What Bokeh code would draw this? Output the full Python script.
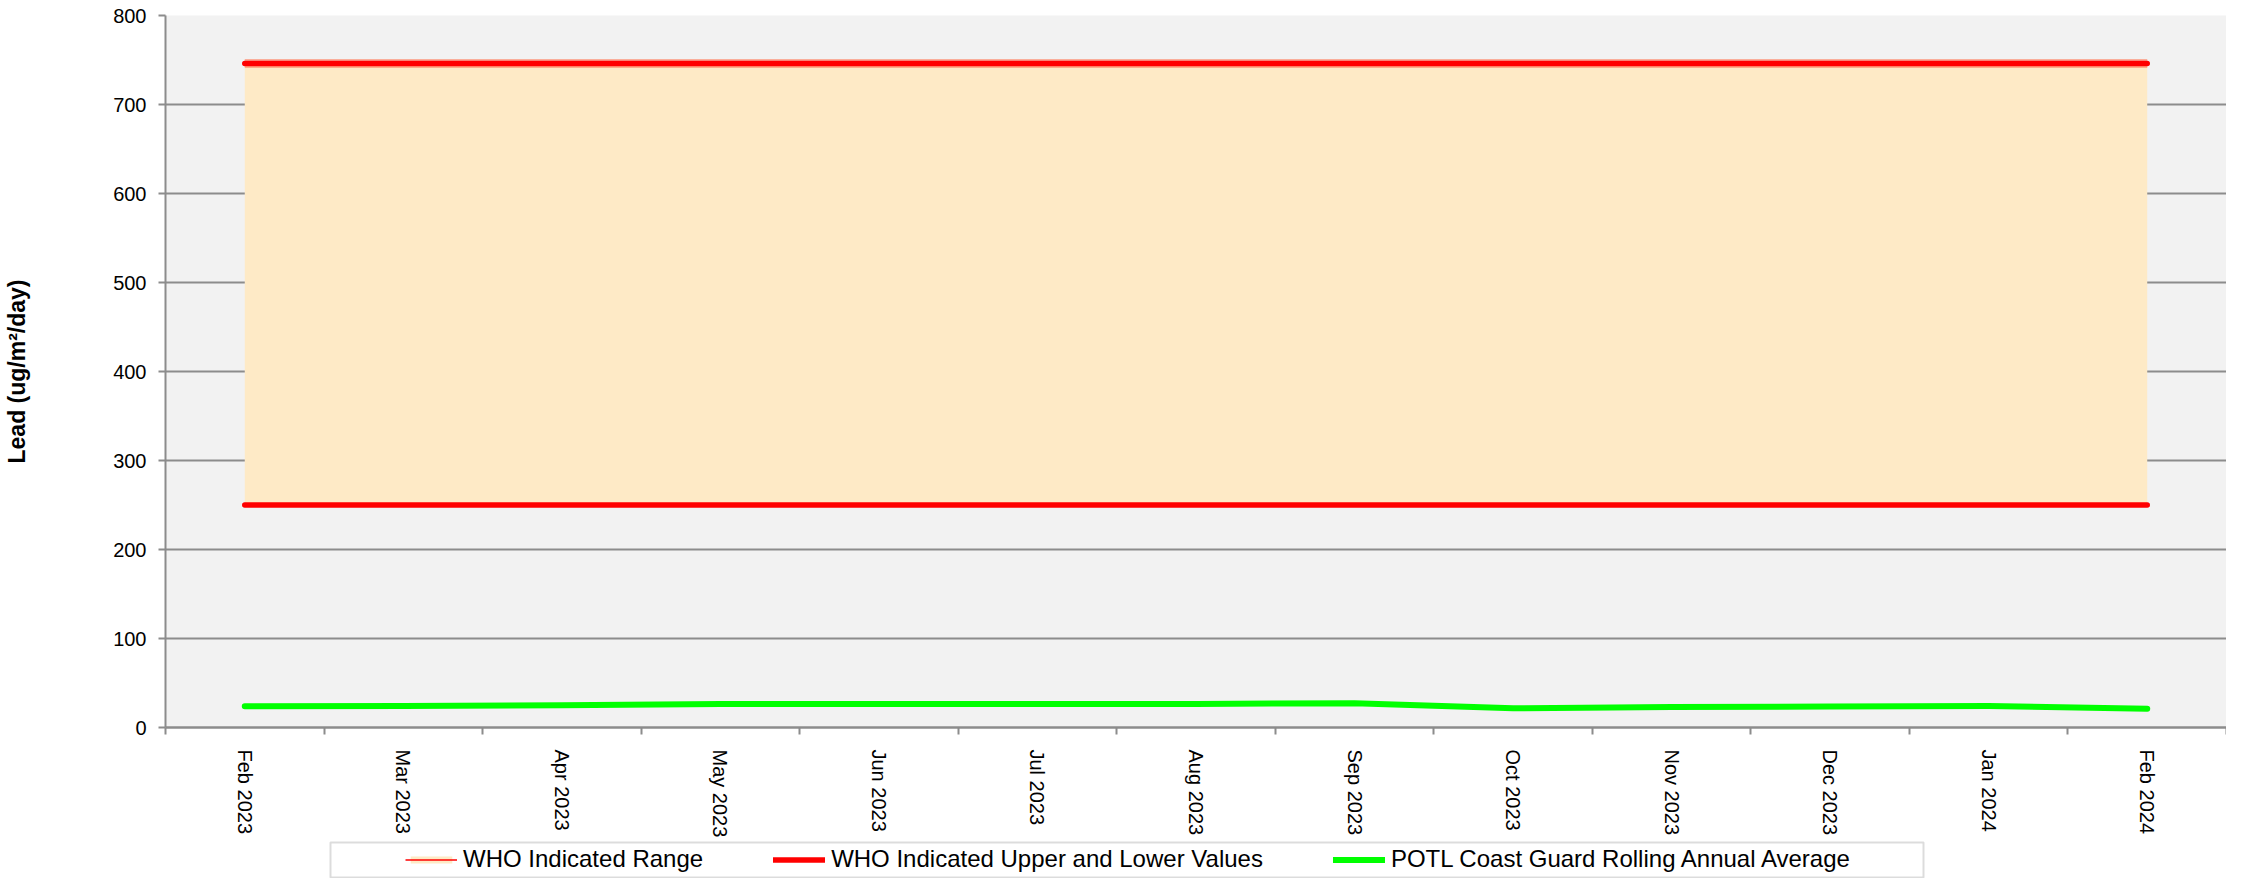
import math
from bokeh.plotting import figure
from bokeh.models import (Range1d, FixedTicker, Legend, LegendItem, BoxAnnotation)
from bokeh.layouts import column
from bokeh.embed import file_html
from bokeh.resources import INLINE

# ---- data ----
months = ["Feb 2023", "Mar 2023", "Apr 2023", "May 2023", "Jun 2023", "Jul 2023",
          "Aug 2023", "Sep 2023", "Oct 2023", "Nov 2023", "Dec 2023", "Jan 2024", "Feb 2024"]
who_lower = [250, 250, 250, 250, 250, 250, 250, 250, 250, 250, 250, 250, 250]
who_upper = [746, 746, 746, 746, 746, 746, 746, 746, 746, 746, 746, 746, 746]
potl_avg = [24.0, 24.2, 24.9, 26.5, 26.5, 26.5, 26.5, 27.2, 21.6, 23.1, 23.5, 24.2, 21.2]
yticks = [0, 100, 200, 300, 400, 500, 600, 700, 800]

series_names = ["WHO Indicated Range", "WHO Indicated Upper and Lower Values",
                "POTL Coast Guard Rolling Annual Average"]

# category centres / boundaries on a numeric axis
xs = [i + 0.5 for i in range(len(months))]
bounds = [i for i in range(len(months) + 1)]

FONT = "Liberation Sans"
GRAY = "#8c8c8c"
BEIGE = "#feeac6"
RED = "#ff0000"
GREEN = "#00ff00"

W = 2226
H_MAIN = 840
H_LEG = 38
LEFT = 165

p = figure(width=W, height=H_MAIN, output_backend="svg", toolbar_location=None,
           x_range=Range1d(0, len(months)), y_range=Range1d(yticks[0], yticks[-1]),
           min_border_left=LEFT, min_border_right=0, min_border_top=15, min_border_bottom=109)

p.background_fill_color = "#f2f2f2"
p.border_fill_color = "white"
p.outline_line_color = None

p.varea(x=xs, y1=who_lower, y2=who_upper, fill_color=BEIGE)
p.line(x=xs, y=who_upper, line_color="#ff8060", line_width=9, line_alpha=0.6)
p.line(x=xs, y=who_upper, line_color=RED, line_width=5.5, line_cap="round")
p.line(x=xs, y=who_lower, line_color=RED, line_width=5.5, line_cap="round")
p.line(x=xs, y=potl_avg, line_color=GREEN, line_width=6, line_cap="round", line_join="round")

# grid
p.xgrid.visible = False
p.ygrid.grid_line_color = GRAY
p.ygrid.grid_line_width = 2
p.ygrid.ticker = FixedTicker(ticks=yticks)

# y axis
ya = p.yaxis[0]
ya.ticker = FixedTicker(ticks=yticks)
ya.axis_line_color = GRAY
ya.axis_line_width = 2
ya.major_tick_line_color = GRAY
ya.major_tick_line_width = 2
ya.major_tick_out = 7
ya.major_tick_in = 0
ya.minor_tick_line_color = None
ya.major_label_standoff = 12
ya.major_label_text_font = FONT
ya.major_label_text_font_size = "20px"
ya.major_label_text_color = "black"
ya.axis_label = "Lead (ug/m\u00b2/day)"
ya.axis_label_text_font = FONT
ya.axis_label_text_font_style = "bold"
ya.axis_label_text_font_size = "23px"
ya.axis_label_text_color = "black"
ya.axis_label_standoff = 80

# x axis
xa = p.xaxis[0]
xa.ticker = FixedTicker(ticks=xs, minor_ticks=bounds)
xa.major_label_overrides = {x: m for x, m in zip(xs, months)}
xa.major_label_orientation = -math.pi / 2
xa.axis_line_color = GRAY
xa.axis_line_width = 2.5
xa.major_tick_line_color = None
xa.major_tick_out = 0
xa.major_tick_in = 0
xa.minor_tick_line_color = GRAY
xa.minor_tick_line_width = 2
xa.minor_tick_out = 7
xa.minor_tick_in = 0
xa.major_label_standoff = 15
xa.major_label_text_font = FONT
xa.major_label_text_font_size = "20px"
xa.major_label_text_color = "black"

# ---- legend strip (separate small figure below the chart, x in page pixels) ----
lf = figure(width=W, height=H_LEG, output_backend="svg", toolbar_location=None,
            x_range=Range1d(LEFT, W), y_range=Range1d(0, H_LEG),
            x_axis_type=None, y_axis_type=None,
            min_border_left=LEFT, min_border_right=0, min_border_top=0, min_border_bottom=0)
lf.outline_line_color = None
lf.background_fill_color = "white"
lf.border_fill_color = "white"
lf.xgrid.visible = False
lf.ygrid.visible = False

box = BoxAnnotation(left=330, right=1923, top=36, bottom=1,
                    fill_color="white", fill_alpha=1.0, line_color=GRAY, line_width=2)
lf.add_layout(box)

# swatch renderers: the same series, which fall outside this strip's ranges (not visible)
s_rng = lf.quad(left=xs, right=xs, bottom=who_lower, top=who_upper,
                fill_color=BEIGE, line_color=None)
s_edge = lf.line(x=xs, y=who_upper, line_color=RED, line_width=1.5)
s_up = lf.line(x=xs, y=who_upper, line_color=RED, line_width=5.5, line_cap="round")
s_grn = lf.line(x=xs, y=potl_avg, line_color=GREEN, line_width=6, line_cap="round")

legend = Legend(items=[
    LegendItem(label=series_names[0], renderers=[s_rng, s_edge]),
    LegendItem(label=series_names[1], renderers=[s_up]),
    LegendItem(label=series_names[2], renderers=[s_grn]),
], orientation="horizontal", location=(405 - LEFT, 5), padding=0, spacing=70,
    glyph_width=52, glyph_height=9, label_standoff=6,
    label_text_font=FONT, label_text_font_size="24px", label_text_color="black",
    border_line_color=None, background_fill_alpha=0)
lf.add_layout(legend)

layout = column(p, lf, spacing=0)
open("out.html", "w").write(file_html(layout, INLINE))
